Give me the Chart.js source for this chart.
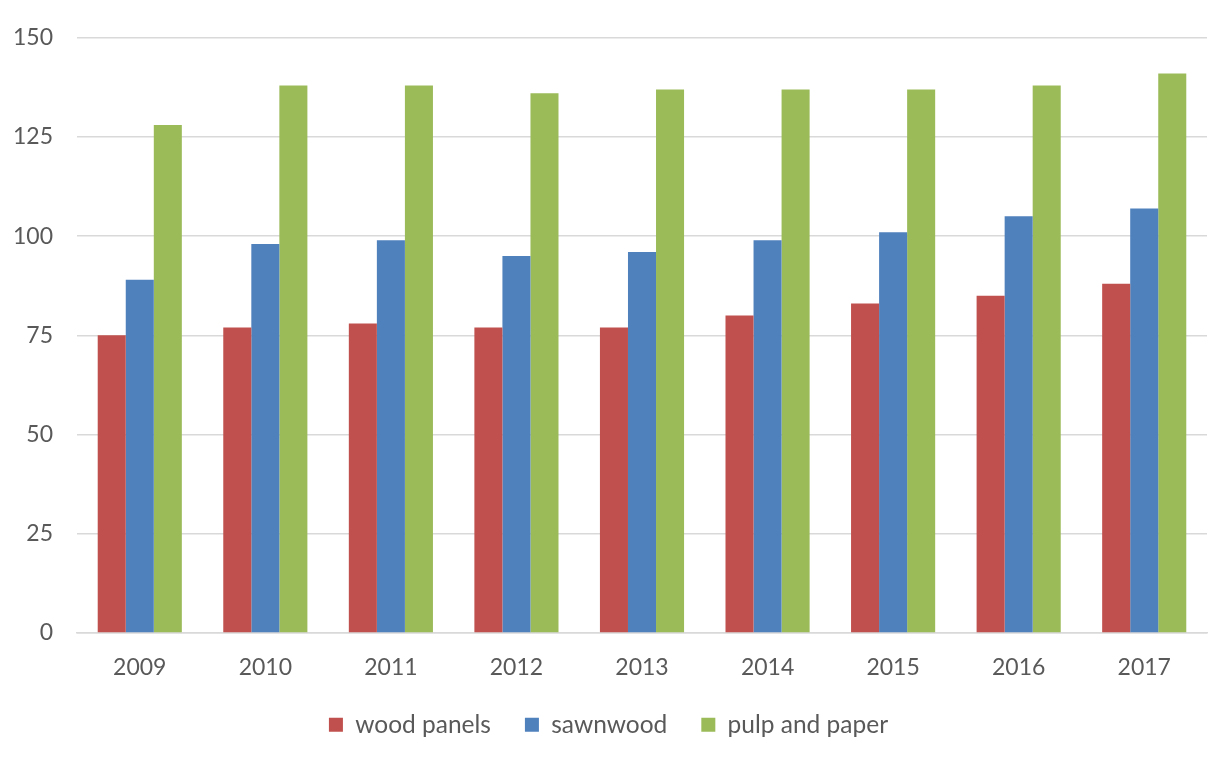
<!DOCTYPE html>
<html>
<head>
<meta charset="utf-8">
<script src="https://cdn.jsdelivr.net/npm/chart.js@4"></script>
<style>
  html, body { margin: 0; padding: 0; background: #fff; }
  #wrap { width: 1231px; height: 759px; }
</style>
</head>
<body>
<div id="wrap"><canvas id="myChart"></canvas></div>
<script>
const years = ['2009', '2010', '2011', '2012', '2013', '2014', '2015', '2016', '2017'];
const woodPanels = [75, 77, 78, 77, 77, 80, 83, 85, 88];
const sawnwood = [89, 98, 99, 95, 96, 99, 101, 105, 107];
const pulpAndPaper = [128, 138, 138, 136, 137, 137, 137, 138, 141];
const yTicks = [0, 25, 50, 75, 100, 125, 150];

document.addEventListener('DOMContentLoaded', function() {
  drawChart();
});

function drawChart() {
  const ctx = document.getElementById('myChart').getContext('2d');
  const font = { family: 'Lato', size: 23 };

  new Chart(ctx, {
    type: 'bar',
    data: {
      labels: years,
      datasets: [
        { label: 'wood panels', data: woodPanels, backgroundColor: '#C0504D' },
        { label: 'sawnwood', data: sawnwood, backgroundColor: '#4F81BD' },
        { label: 'pulp and paper', data: pulpAndPaper, backgroundColor: '#9BBB59' }
      ]
    },
    options: {
      responsive: true,
      maintainAspectRatio: false,
      animation: false,
      layout: { padding: { top: 34, left: 10, right: 24, bottom: 12 } },
      datasets: {
        bar: { barPercentage: 1, categoryPercentage: 0.67, borderWidth: 0 }
      },
      scales: {
        x: {
          grid: { display: false, drawTicks: false },
          border: { display: true, color: '#d9d9d9', width: 1.5 },
          ticks: { color: '#595959', font: font, padding: 21 },
          // legend sits closer to the year labels than chart.js would put it
          afterFit: function(axis) {
            axis.height -= 24;
          }
        },
        y: {
          min: 0,
          max: 150,
          afterBuildTicks: function(axis) {
            axis.ticks = yTicks.map(v => ({ value: v }));
          },
          afterFit: function(axis) {
            axis.width = 67;
          },
          grid: { color: '#d9d9d9', lineWidth: 1.5, drawTicks: false },
          border: { display: false },
          ticks: { color: '#595959', font: font, padding: 24 }
        }
      },
      plugins: {
        legend: {
          position: 'bottom',
          labels: {
            color: '#595959',
            font: { family: 'Lato', size: 24.5 },
            boxWidth: 14,
            boxHeight: 14,
            padding: 34
          }
        },
        tooltip: { enabled: false }
      }
    }
  });
}
</script>
</body>
</html>
